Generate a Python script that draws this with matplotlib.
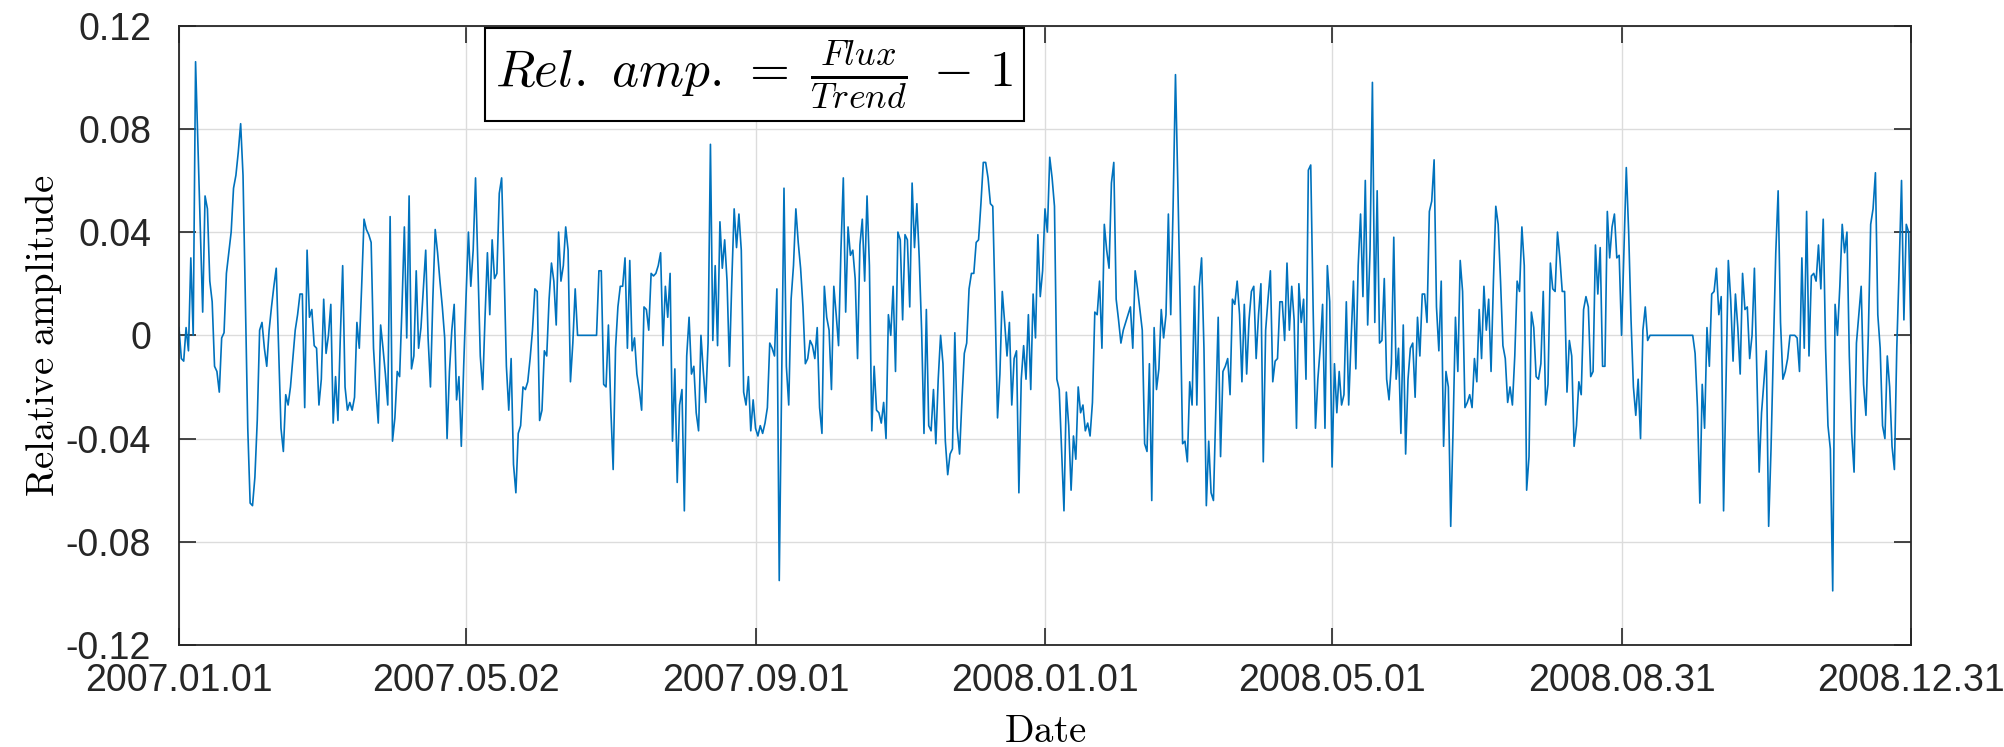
import matplotlib
matplotlib.use("Agg")
import matplotlib.pyplot as plt
import matplotlib.dates as mdates
import pandas as pd

plt.rcParams['mathtext.fontset'] = 'cm'
plt.rcParams['font.family'] = ['Liberation Sans', 'DejaVu Sans']

# daily relative amplitude
amp_2007 = [
    0.003, -0.009, -0.010, 0.003, -0.006, 0.030, 0.000, 0.106, 0.074, 0.043,
    0.009, 0.054, 0.049, 0.021, 0.013, -0.012, -0.014, -0.022, -0.001, 0.001,
    0.024, 0.032, 0.040, 0.057, 0.062, 0.071, 0.082, 0.062, 0.014, -0.036,
    -0.065, -0.066, -0.055, -0.033, 0.002, 0.005, -0.005, -0.012, 0.002, 0.011,
    0.019, 0.026, -0.005, -0.036, -0.045, -0.023, -0.027, -0.020, -0.009, 0.002,
    0.008, 0.016, 0.016, -0.028, 0.033, 0.007, 0.010, -0.004, -0.005, -0.027,
    -0.017, 0.014, -0.007, 0.000, 0.012, -0.034, -0.016, -0.033, -0.001, 0.027,
    -0.020, -0.029, -0.026, -0.029, -0.024, 0.005, -0.005, 0.019, 0.045, 0.041,
    0.039, 0.036, -0.005, -0.021, -0.034, 0.004, -0.005, -0.015, -0.027, 0.046,
    -0.041, -0.032, -0.014, -0.016, 0.011, 0.042, -0.001, 0.054, -0.013, -0.008,
    0.025, -0.005, 0.003, 0.018, 0.033, -0.001, -0.020, 0.014, 0.041, 0.032,
    0.021, 0.011, -0.001, -0.040, -0.014, 0.002, 0.012, -0.025, -0.016, -0.043,
    -0.012, 0.015, 0.040, 0.019, 0.033, 0.061, 0.027, -0.008, -0.021, 0.007,
    0.032, 0.008, 0.037, 0.022, 0.024, 0.055, 0.061, 0.027, -0.012, -0.029,
    -0.009, -0.050, -0.061, -0.038, -0.035, -0.020, -0.021, -0.018, -0.009, 0.002,
    0.018, 0.017, -0.033, -0.029, -0.006, -0.008, 0.014, 0.028, 0.021, 0.004,
    0.040, 0.021, 0.027, 0.042, 0.033, -0.018, -0.003, 0.018, 0.000, 0.000,
    0.000, 0.000, 0.000, 0.000, 0.000, 0.000, 0.000, 0.025, 0.025, -0.019,
    -0.020, 0.004, -0.028, -0.052, -0.005, 0.011, 0.019, 0.019, 0.030, -0.005,
    0.029, -0.006, -0.001, -0.015, -0.021, -0.029, 0.011, 0.010, 0.002, 0.024,
    0.023, 0.024, 0.027, 0.032, -0.004, 0.019, 0.007, 0.024, -0.041, -0.013,
    -0.057, -0.027, -0.021, -0.068, -0.008, 0.007, -0.015, -0.012, -0.030, -0.037,
    0.000, -0.014, -0.026, -0.003, 0.074, -0.002, 0.027, -0.004, 0.044, 0.026,
    0.037, 0.021, -0.012, 0.021, 0.049, 0.034, 0.047, 0.033, -0.022, -0.027,
    -0.016, -0.037, -0.025, -0.036, -0.039, -0.035, -0.038, -0.034, -0.028, -0.003,
    -0.005, -0.008, 0.018, -0.095, -0.020, 0.057, -0.012, -0.027, 0.014, 0.027,
    0.049, 0.036, 0.026, 0.011, -0.011, -0.009, -0.002, -0.004, -0.009, 0.003,
    -0.028, -0.038, 0.019, 0.007, 0.002, -0.021, 0.019, 0.008, -0.004, 0.033,
    0.061, 0.009, 0.042, 0.031, 0.033, 0.022, -0.009, 0.035, 0.045, 0.021,
    0.054, 0.027, -0.037, -0.012, -0.029, -0.030, -0.034, -0.026, -0.040, 0.008,
    0.000, 0.019, -0.014, 0.040, 0.037, 0.006, 0.039, 0.037, 0.011, 0.059,
    0.034, 0.051, 0.030, 0.002, -0.038, 0.010, -0.035, -0.037, -0.021, -0.042,
    -0.017, 0.000, -0.011, -0.041, -0.054, -0.046, -0.044, 0.001, -0.036, -0.046,
    -0.025, -0.007, -0.003, 0.018, 0.024, 0.024, 0.036, 0.037, 0.051, 0.067,
    0.067, 0.061, 0.051, 0.050, 0.011, -0.032, -0.015, 0.017, 0.005, -0.008,
    0.005, -0.027, -0.009, -0.006, -0.061, -0.017, -0.004, -0.017, 0.008, -0.021,
    0.016, -0.001, 0.039, 0.015, 0.025,
]

amp_2008 = [
    0.049, 0.040, 0.069, 0.061, 0.050,
    -0.017, -0.021, -0.045, -0.068, -0.022, -0.035, -0.060, -0.039, -0.048, -0.020,
    -0.030, -0.027, -0.037, -0.034, -0.039, -0.026, 0.009, 0.008, 0.021, -0.005,
    0.043, 0.033, 0.026, 0.059, 0.067, 0.014, 0.006, -0.003, 0.002, 0.005,
    0.008, 0.011, -0.005, 0.025, 0.018, 0.010, 0.002, -0.042, -0.045, -0.011,
    -0.064, 0.003, -0.021, -0.013, 0.010, -0.001, 0.008, 0.047, 0.008, 0.050,
    0.101, 0.058, 0.011, -0.042, -0.041, -0.049, -0.018, -0.027, 0.019, -0.027,
    0.019, 0.030, -0.005, -0.066, -0.041, -0.061, -0.064, -0.028, 0.007, -0.047,
    -0.014, -0.012, -0.009, -0.023, 0.014, 0.012, 0.021, 0.008, -0.018, 0.012,
    -0.015, 0.006, 0.017, 0.019, -0.009, 0.008, 0.020, -0.049, 0.002, 0.014,
    0.025, -0.018, -0.010, -0.009, 0.013, 0.013, -0.002, 0.028, 0.002, 0.019,
    0.006, -0.036, 0.020, 0.005, 0.014, -0.017, 0.064, 0.066, 0.011, -0.036,
    -0.017, -0.005, 0.012, -0.036, 0.027, 0.013, -0.051, -0.011, -0.030, -0.014,
    -0.027, -0.023, 0.013, -0.027, -0.002, 0.021, -0.013, 0.027, 0.047, 0.015,
    0.060, 0.004, 0.033, 0.098, 0.005, 0.056, -0.003, -0.002, 0.022, -0.017,
    -0.025, -0.011, 0.038, -0.017, -0.005, -0.038, 0.004, -0.046, -0.017, -0.005,
    -0.003, -0.024, 0.007, -0.008, 0.016, 0.016, 0.005, 0.048, 0.052, 0.068,
    0.011, -0.006, 0.021, -0.043, -0.014, -0.020, -0.074, -0.036, 0.007, -0.014,
    0.029, 0.017, -0.028, -0.026, -0.023, -0.028, -0.009, -0.018, 0.010, -0.009,
    0.019, 0.002, 0.014, -0.014, 0.021, 0.050, 0.043, 0.021, -0.004, -0.009,
    -0.026, -0.020, -0.027, -0.008, 0.021, 0.017, 0.042, 0.027, -0.060, -0.047,
    0.009, 0.003, -0.016, -0.017, -0.011, 0.017, -0.027, -0.019, 0.028, 0.018,
    0.017, 0.040, 0.030, 0.017, 0.017, -0.022, -0.002, -0.008, -0.043, -0.035,
    -0.018, -0.023, 0.010, 0.015, 0.011, -0.016, -0.014, 0.035, 0.016, 0.034,
    -0.012, -0.012, 0.048, 0.030, 0.042, 0.047, 0.030, 0.031, 0.000, 0.033,
    0.065, 0.040, 0.006, -0.020, -0.031, -0.017, -0.040, 0.002, 0.011, -0.002,
    0.000, 0.000, 0.000, 0.000, 0.000, 0.000, 0.000, 0.000, 0.000, 0.000,
    0.000, 0.000, 0.000, 0.000, 0.000, 0.000, 0.000, 0.000, 0.000,
    -0.007,
    -0.028, -0.065, -0.019, -0.036, 0.003, -0.012, 0.016, 0.017, 0.026, 0.008,
    0.015, -0.068, -0.020, 0.029, 0.014, -0.010, 0.016, 0.003, -0.015, 0.024,
    0.010, 0.011, -0.009, 0.000, 0.026, -0.013, -0.053, -0.030, -0.018, -0.006,
    -0.074, -0.044, -0.005, 0.032, 0.056, 0.005, -0.017, -0.014, -0.009, 0.000,
    0.000, 0.000, -0.001, -0.014, 0.030, -0.005, 0.048, -0.008, 0.023, 0.024,
    0.021, 0.035, 0.018, 0.045, -0.005, -0.035, -0.044, -0.099, 0.012, 0.000,
    0.019, 0.043, 0.032, 0.040, -0.008, -0.038, -0.053, -0.003, 0.008, 0.019,
    -0.019, -0.031, 0.000, 0.043, 0.049, 0.063, 0.008, -0.005, -0.035, -0.040,
    -0.008, -0.020, -0.043, -0.052, -0.005, 0.026, 0.060, 0.006, 0.043, 0.040, -0.003,
]

tick_dates = ['2007-01-01', '2007-05-02', '2007-09-01', '2008-01-01',
              '2008-05-01', '2008-08-31', '2008-12-31']
y_ticks = [-0.12, -0.08, -0.04, 0, 0.04, 0.08, 0.12]
y_tick_labels = ['-0.12', '-0.08', '-0.04', '0', '0.04', '0.08', '0.12']

dates = pd.date_range('2007-01-01', '2008-12-31', freq='D')
values = amp_2007 + amp_2008

fig = plt.figure(figsize=(20.04, 7.47), dpi=100)
ax = fig.add_axes([0.0893, 0.1365, 0.8643, 0.8292])

ax.plot(dates, values, color='#0072BD', lw=1.2)

ax.set_xlim(dates[0], dates[-1])
ax.set_ylim(-0.12, 0.12)
ax.set_xticks(pd.to_datetime(tick_dates))
ax.xaxis.set_major_formatter(mdates.DateFormatter('%Y.%m.%d'))
ax.set_yticks(y_ticks)
ax.set_yticklabels(y_tick_labels)

ax.grid(True, color='#dcdcdc', lw=1.0)
ax.set_axisbelow(True)
ax.tick_params(direction='in', length=12, width=1.2, top=True, right=True,
               labelsize=27, colors='#262626')
ax.tick_params(axis='y', pad=20)
ax.tick_params(axis='x', pad=13)
for s in ax.spines.values():
    s.set_color('#262626')
    s.set_linewidth(1.3)

ax.set_ylabel(r'$\mathrm{Relative\ amplitude}$', fontsize=28, labelpad=1)
ax.set_xlabel(r'$\mathrm{Date}$', fontsize=28, labelpad=11)

fig.text(0.3765, 0.9003, r'$Rel.\ amp.\,=\;\frac{Flux}{Trend}\;-\,1$',
         fontsize=37, ha='center', va='center',
         bbox=dict(boxstyle='square,pad=0.2', fc='white', ec='black', lw=1.5))

fig.savefig('out.png', dpi=100)
